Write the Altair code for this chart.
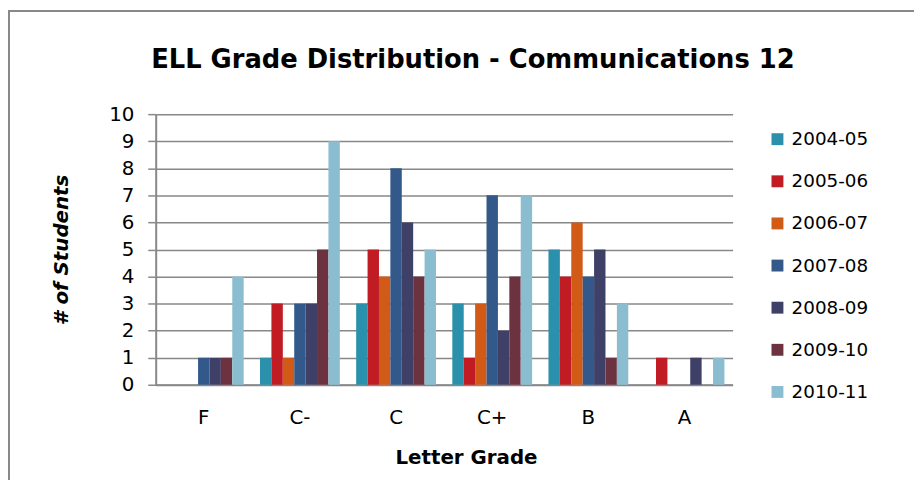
import altair as alt
import pandas as pd

grades = ["F", "C-", "C", "C+", "B", "A"]
years = ["2004-05", "2005-06", "2006-07", "2007-08", "2008-09", "2009-10", "2010-11"]
colors = ["#2A90AB", "#C11B24", "#D25A17", "#32598A", "#3F4068", "#6D3240", "#8BBDD0"]

s2004 = [0, 1, 3, 3, 5, 0]
s2005 = [0, 3, 5, 1, 4, 1]
s2006 = [0, 1, 4, 3, 6, 0]
s2007 = [1, 3, 8, 7, 4, 0]
s2008 = [1, 3, 6, 2, 5, 1]
s2009 = [1, 5, 4, 4, 1, 0]
s2010 = [4, 9, 5, 7, 3, 1]
series = [s2004, s2005, s2006, s2007, s2008, s2009, s2010]

rows = []
for y, vals in zip(years, series):
    for g, v in zip(grades, vals):
        rows.append({"grade": g, "year": y, "count": v})
df = pd.DataFrame(rows)

FONT = "DejaVu Sans"
W, H = 582, 273

bars = alt.Chart(df).mark_bar().encode(
    x=alt.X("grade:N", sort=grades,
            scale=alt.Scale(paddingInner=0.17, paddingOuter=0.085),
            axis=alt.Axis(title="Letter Grade", labelAngle=0, labelFontSize=20,
                          labelFont=FONT, labelColor="#000", labelPadding=23,
                          ticks=False, domainColor="#888", domainWidth=2,
                          titleFont=FONT, titleFontSize=20, titleFontWeight="bold",
                          titleColor="#000", titleX=313, titleY=79,
                          titleBaseline="alphabetic")),
    xOffset=alt.XOffset("year:N", sort=years),
    y=alt.Y("count:Q", scale=alt.Scale(domain=[0, 10]),
            axis=alt.Axis(title="# of Students", values=list(range(11)),
                          tickSize=8, tickColor="#888", tickWidth=1.5,
                          grid=True, gridColor="#888", gridWidth=1.5,
                          domainColor="#888", domainWidth=2,
                          labelFontSize=20, labelFont=FONT, labelColor="#000",
                          labelPadding=14,
                          titleFont=FONT, titleFontSize=20, titleFontWeight="bold",
                          titleFontStyle="italic", titleColor="#000",
                          titleAngle=270, titleX=-95, titleY=136.5,
                          titleAlign="center", titleBaseline="middle")),
    color=alt.Color("year:N", sort=years,
                    scale=alt.Scale(domain=years, range=colors),
                    legend=alt.Legend(title=None, orient="none", legendX=618, legendY=16,
                                      symbolType="square", symbolSize=144,
                                      symbolStrokeWidth=0, labelFont=FONT,
                                      labelFontSize=18.5, labelColor="#000",
                                      labelOffset=5, rowPadding=23.5, padding=0)),
)

frame = alt.Chart(pd.DataFrame({"a": [0]})).mark_rect(
    fill=None, stroke="#888", strokeWidth=2
).encode(
    x=alt.value(-148), y=alt.value(-104), x2=alt.value(3000), y2=alt.value(3000)
)

chart = alt.layer(bars, frame).properties(
    width=W, height=H,
    autosize=alt.AutoSizeParams(type="none"),
    padding={"left": 149, "top": 105, "right": 183, "bottom": 94},
    title=alt.TitleParams("ELL Grade Distribution - Communications 12",
                          font=FONT, fontSize=26, fontWeight="bold", color="#000",
                          anchor="middle", dx=29, offset=-84, baseline="alphabetic"),
).configure_view(stroke=None)

chart.save("out.html", embed_options={"renderer": "svg", "actions": False})
